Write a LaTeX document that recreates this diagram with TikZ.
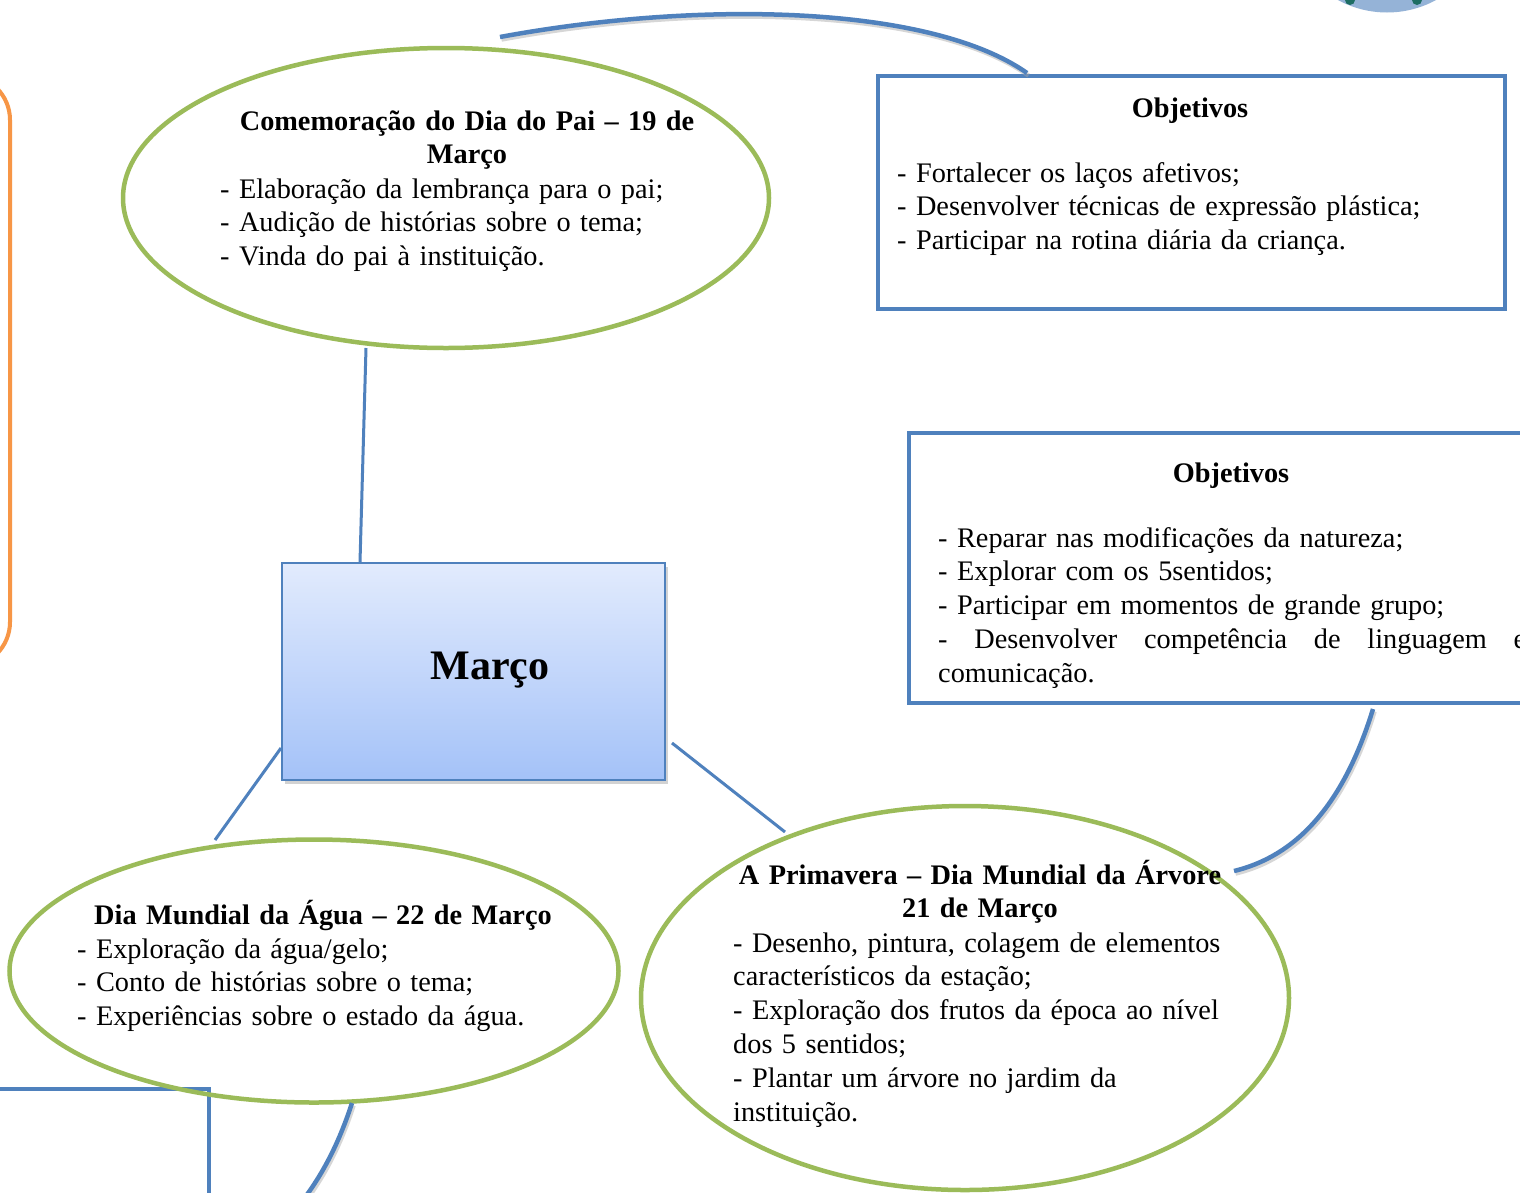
\documentclass[tikz,border=0pt]{standalone}
\usepackage{fontspec}
\setmainfont{Liberation Serif}
\usetikzlibrary{shapes.geometric,shadows}
\definecolor{cblue}{RGB}{79,129,189}
\definecolor{cgreen}{RGB}{155,187,89}
\definecolor{corange}{RGB}{247,150,70}
\definecolor{ctop}{RGB}{226,235,253}
\definecolor{cbot}{RGB}{164,194,248}
\definecolor{ccircle}{RGB}{149,179,215}
\definecolor{cdot}{RGB}{30,110,100}
\tikzset{
  bubble/.style={ellipse, draw=cgreen, line width=4.5pt, inner sep=0pt},
  objbox/.style={draw=cblue, line width=4pt, inner sep=0pt},
  link/.style={draw=cblue, line width=3pt},
  curvelink/.style={draw=cblue, line width=4.5pt,
    preaction={draw=black!35, opacity=0.45, line width=4.5pt,
      transform canvas={shift={(1.5pt,-2.5pt)}}}},
  bodytext/.style={font=\fontsize{28.3}{33.8}\selectfont, inner sep=0pt, align=left, anchor=base west},
  titletext/.style={font=\bfseries\fontsize{28.3}{33.8}\selectfont, inner sep=0pt, align=center, anchor=base}
}
\begin{document}
\begin{tikzpicture}[x=1pt,y=-1pt]
\useasboundingbox (0,0) rectangle (1520,1192);
\fill[white] (0,0) rectangle (1520,1192);

% partial logo circle at top right
\node[circle, fill=ccircle, minimum size=205pt, inner sep=0pt] (logo) at (1387,-90) {};
\fill[cdot] (1350,0) circle[radius=5pt];
\fill[cdot] (1417,0) circle[radius=5pt];

% orange box on the left edge
\node[draw=corange, line width=4pt, rounded corners=45pt, anchor=north east,
      minimum width=320pt, minimum height=592pt, inner sep=0pt] (orbox) at (12,73) {};

% bottom-left blue box
\node[objbox, anchor=north east, minimum width=240pt, minimum height=220pt] (blbox) at (211,1087) {};

% objective boxes
\node[objbox, anchor=north west, minimum width=627pt, minimum height=233pt] (obj1) at (876,74) {};
\node[objbox, anchor=north west, minimum width=650pt, minimum height=270pt] (obj2) at (907,431) {};

% central box
\node[draw=cblue, line width=1.5pt, top color=ctop, bottom color=cbot, inner sep=0pt,
      minimum width=383pt, minimum height=217pt, anchor=north west,
      drop shadow={shadow xshift=3pt, shadow yshift=-4pt, opacity=0.35}] (marco) at (281,562) {};
\node[font=\bfseries\fontsize{42}{50}\selectfont, anchor=base, inner sep=0pt] (marcot) at (490,679) {Março};

% ellipses
\node[bubble, minimum width=646pt, minimum height=300pt] (pai) at (446,198) {};
\node[bubble, minimum width=609pt, minimum height=263pt] (agua) at (314,971) {};
\node[bubble, minimum width=648pt, minimum height=384pt] (prim) at (965,998) {};

% connector end points
\coordinate (paiS) at (366,348);
\coordinate (marcoN) at (360,562);
\coordinate (marcoW) at (281,748);
\coordinate (aguaN) at (215,840);
\coordinate (marcoE) at (672,743);
\coordinate (primN) at (785,832);
\coordinate (topStart) at (500,37);
\coordinate (obj1N) at (1027,73);
\coordinate (obj2S) at (1373,709);
\coordinate (primE) at (1234,871);
\coordinate (aguaS) at (352,1103);
\coordinate (offBottom) at (306,1196);

\draw[link] (paiS) -- (marcoN);
\draw[link] (marcoW) -- (aguaN);
\draw[link] (marcoE) -- (primN);
\draw[curvelink] (topStart) .. controls (700,0) and (930,5) .. (obj1N);
\draw[curvelink] (obj2S) .. controls (1345,800) and (1300,855) .. (primE);
\draw[curvelink] (aguaS) .. controls (340,1140) and (325,1170) .. (offBottom);

% texts
\node[titletext, text width=480pt] (paiT) at (467,130) {Comemoração do Dia do Pai – 19 de\\Março};
\node[bodytext, text width=480pt] (paiL) at (220,198) {- Elaboração da lembrança para o pai;\\- Audição de histórias sobre o tema;\\- Vinda do pai à instituição.};

\node[titletext, text width=300pt] (obj1T) at (1190,117) {Objetivos};
\node[bodytext, text width=600pt] (obj1L) at (897,182) {- Fortalecer os laços afetivos;\\- Desenvolver técnicas de expressão plástica;\\- Participar na rotina diária da criança.};

\node[titletext, text width=300pt] (obj2T) at (1231,482) {Objetivos};
\node[bodytext, text width=588pt] (obj2L) at (938,547) {- Reparar nas modificações da natureza;\\- Explorar com os 5sentidos;\\- Participar em momentos de grande grupo;\\\makebox[588pt][l]{-\hfill Desenvolver\hfill competência\hfill de\hfill linguagem\hfill e}\\comunicação.};

\node[titletext, text width=560pt] (aguaT) at (323,924) {Dia Mundial da Água – 22 de Março};
\node[bodytext, text width=520pt] (aguaL) at (77,958) {- Exploração da água/gelo;\\- Conto de histórias sobre o tema;\\- Experiências sobre o estado da água.};

\node[titletext, text width=520pt] (primT) at (980,884) {A Primavera – Dia Mundial da Árvore\\21 de Março};
\node[bodytext, text width=520pt] (primL) at (733,952) {- Desenho, pintura, colagem de elementos\\característicos da estação;\\- Exploração dos frutos da época ao nível\\dos 5 sentidos;\\- Plantar um árvore no jardim da\\instituição.};
\end{tikzpicture}
\end{document}
